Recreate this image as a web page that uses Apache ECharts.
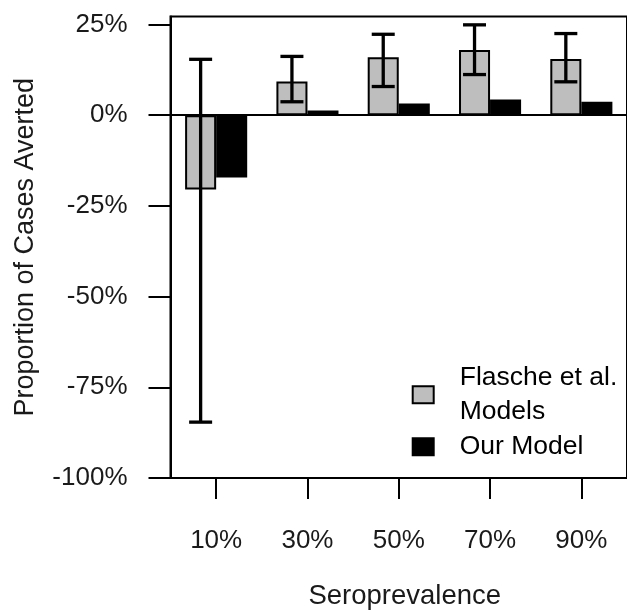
<!DOCTYPE html>
<html>
<head>
<meta charset="utf-8">
<script src="https://cdn.jsdelivr.net/npm/echarts@6/dist/echarts.min.js"></script>
<style>
  html, body { margin: 0; padding: 0; background: #fff; }
  #chart { width: 627px; height: 615px; }
</style>
</head>
<body>
<div id="chart"></div>
<script>
// Seroprevalence levels on the x axis
const categories = ['10%', '30%', '50%', '70%', '90%'];
// Proportion of cases averted (%), Flasche et al. models (mean)
const flascheValues = [-20.5, 9.3, 16.0, 18.0, 15.5];
// Range across the Flasche et al. models (%)
const flascheLow = [-84.6, 3.7, 7.9, 11.2, 9.2];
const flascheHigh = [15.4, 16.2, 22.3, 24.9, 22.5];
// Proportion of cases averted (%), our model
const ourModelValues = [-17.2, 1.3, 3.2, 4.3, 3.7];
// Y axis tick values (%)
const yTicks = [-100, -75, -50, -25, 0, 25];

const FONT = "'Liberation Sans', Arial, sans-serif";
const CATEGORY_GAP = 0.32;

const errorData = categories.map((c, i) => [i, flascheLow[i], flascheHigh[i]]);

const chart = echarts.init(document.getElementById('chart'), null, { renderer: 'canvas' });

chart.setOption({
  animation: false,
  backgroundColor: '#fff',
  textStyle: { fontFamily: FONT },
  grid: {
    left: 170.5, top: 16.5, width: 459.5, bottom: 136,
    show: true, borderColor: '#000', borderWidth: 2, backgroundColor: 'transparent'
  },
  legend: {
    orient: 'vertical',
    left: 406.7, top: 353.2,
    itemWidth: 21, itemHeight: 17, itemGap: -4,
    icon: 'rect',
    selectedMode: false,
    textStyle: { fontFamily: FONT, fontSize: 26.5, lineHeight: 34, color: '#000', padding: [5, 0, 0, 21] },
    data: ['Flasche et al.\nModels', 'Our Model']
  },
  xAxis: {
    type: 'category',
    data: categories,
    axisLine: { show: true, onZero: false, lineStyle: { color: '#000', width: 2 } },
    axisTick: { show: true, alignWithLabel: true, inside: false, length: 21, lineStyle: { color: '#000', width: 2 } },
    axisLabel: { fontFamily: FONT, fontSize: 26, color: '#1a1a1a', margin: 50 },
    splitLine: { show: false },
    name: 'Seroprevalence',
    nameLocation: 'middle',
    nameGap: 104,
    nameTextStyle: { fontFamily: FONT, fontSize: 27.5, color: '#1a1a1a', padding: [0, 0, 0, 12] }
  },
  yAxis: {
    type: 'value',
    min: -100, max: 27.2,
    axisLine: { show: true, onZero: false, lineStyle: { color: '#000', width: 2 } },
    axisTick: { show: true, inside: false, length: 22, customValues: yTicks, lineStyle: { color: '#000', width: 2 } },
    axisLabel: {
      fontFamily: FONT, fontSize: 26, color: '#1a1a1a', margin: 43,
      customValues: yTicks,
      formatter: v => v + '%'
    },
    splitLine: { show: false },
    name: 'Proportion of Cases Averted',
    nameLocation: 'middle',
    nameGap: 131,
    nameTextStyle: { fontFamily: FONT, fontSize: 27, color: '#1a1a1a' }
  },
  series: [
    {
      name: 'Flasche et al.\nModels',
      type: 'bar',
      data: flascheValues,
      barGap: '0%',
      barCategoryGap: (CATEGORY_GAP * 100) + '%',
      itemStyle: { color: '#bebebe', borderColor: '#000', borderWidth: 2 }
    },
    {
      name: 'Our Model',
      type: 'bar',
      data: ourModelValues,
      barGap: '0%',
      barCategoryGap: (CATEGORY_GAP * 100) + '%',
      itemStyle: { color: '#000', borderColor: '#000', borderWidth: 2 },
      markLine: {
        silent: true,
        symbol: ['none', 'none'],
        label: { show: false },
        lineStyle: { color: '#000', width: 2, type: 'solid' },
        data: [{ yAxis: 0 }]
      }
    },
    {
      name: 'range',
      type: 'custom',
      data: errorData,
      encode: { x: 0, y: [1, 2] },
      z: 5,
      renderItem: function (params, api) {
        const idx = api.value(0);
        const lo = api.coord([idx, api.value(1)]);
        const hi = api.coord([idx, api.value(2)]);
        const band = api.size([1, 0])[0];
        const barW = band * (1 - CATEGORY_GAP) / 2;
        const x = lo[0] - barW / 2;
        const cap = 11.5;
        const style = { stroke: '#000', lineWidth: 3.3 };
        return {
          type: 'group',
          children: [
            { type: 'line', shape: { x1: x, y1: hi[1], x2: x, y2: lo[1] }, style: style },
            { type: 'line', shape: { x1: x - cap, y1: hi[1], x2: x + cap, y2: hi[1] }, style: style },
            { type: 'line', shape: { x1: x - cap, y1: lo[1], x2: x + cap, y2: lo[1] }, style: style }
          ]
        };
      }
    }
  ]
});
</script>
</body>
</html>
